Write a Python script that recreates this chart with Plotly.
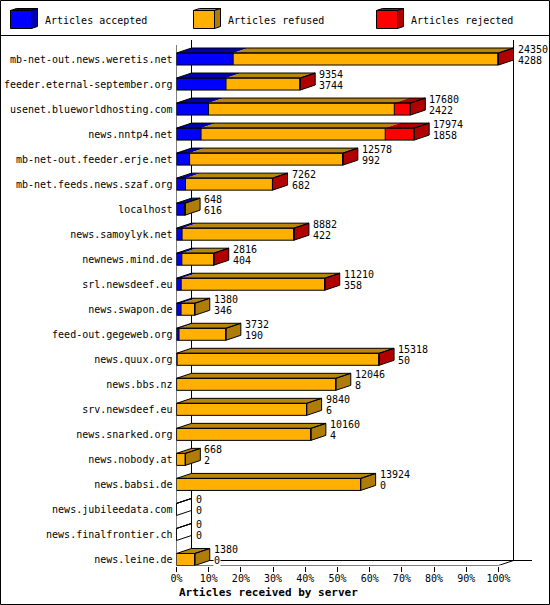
import plotly.graph_objects as go

W, H = 550, 605

servers = ["mb-net-out.news.weretis.net", "feeder.eternal-september.org", "usenet.blueworldhosting.com",
           "news.nntp4.net", "mb-net-out.feeder.erje.net", "mb-net.feeds.news.szaf.org", "localhost",
           "news.samoylyk.net", "newnews.mind.de", "srl.newsdeef.eu", "news.swapon.de", "feed-out.gegeweb.org",
           "news.quux.org", "news.bbs.nz", "srv.newsdeef.eu", "news.snarked.org", "news.nobody.at",
           "news.babsi.de", "news.jubileedata.com", "news.finalfrontier.ch", "news.leine.de"]
# the two numbers printed beside each bar
offered = [24350, 9354, 17680, 17974, 12578, 7262, 648, 8882, 2816, 11210, 1380, 3732,
           15318, 12046, 9840, 10160, 668, 13924, 0, 0, 1380]
accepted = [4288, 3744, 2422, 1858, 992, 682, 616, 422, 404, 358, 346, 190,
            50, 8, 6, 4, 2, 0, 0, 0, 0]
refused = [20002, 5590, 14048, 13926, 11566, 6570, 32, 8452, 2408, 10846, 1034, 3542,
           15264, 12038, 9834, 10156, 666, 13924, 0, 0, 1380]
rejected = [60, 20, 1210, 2190, 20, 10, 0, 8, 4, 6, 0, 0,
            4, 0, 0, 0, 0, 0, 0, 0, 0]
pct_ticks = [0, 10, 20, 30, 40, 50, 60, 70, 80, 90, 100]

series = [("Articles accepted", accepted, "#0000ff", "#0000b0", "#0000b0"),
          ("Articles refused", refused, "#ffb000", "#b8860b", "#b07c08"),
          ("Articles rejected", rejected, "#ff0000", "#b00000", "#b00000")]

FONT = "DejaVu Sans Mono"
SCALE = max(offered) / 100.0

# layout of the drawing in pixels
X0, X100, Y_FIRST, ROW_H = 176.5, 498.5, 59.5, 25.0
PX_PCT = (X100 - X0) / 100.0
TOP, BOTTOM, RIGHT = 40.5, 565.5, 532.0
DX, DY = 15 / PX_PCT, 5 / ROW_H  # 3d depth in axis units
HALF = 6 / ROW_H


def xp(px):
    return px / W


def yp(px):
    return 1 - px / H


def poly(xs, ys):
    return list(xs) + [xs[0], None], list(ys) + [ys[0], None]


fronts = {s[0]: ([], []) for s in series}
tops = {s[0]: ([], []) for s in series}
sides = {s[0]: ([], []) for s in series}
out_x, out_y = [], []

for row in range(len(servers)):
    y_t, y_b = row - HALF, row + HALF
    pos = 0.0
    last = None
    for name, vals, _, _, _ in series:
        v = vals[row] / SCALE
        if v <= 0:
            continue
        x = [pos, pos + v, pos + v, pos]
        a, b = poly(x, [y_t, y_t, y_b, y_b])
        fronts[name][0].extend(a); fronts[name][1].extend(b)
        a, b = poly([pos, pos + v, pos + v + DX, pos + DX], [y_t, y_t, y_t - DY, y_t - DY])
        tops[name][0].extend(a); tops[name][1].extend(b)
        pos += v
        # black divider on the front face
        out_x += [pos, pos, None]; out_y += [y_t, y_b, None]
        last = name
    if last:
        a, b = poly([pos, pos + DX, pos + DX, pos], [y_t, y_t - DY, y_b - DY, y_b])
        sides[last][0].extend(a); sides[last][1].extend(b)
    # outlines
    a, b = poly([0, pos, pos, 0], [y_t, y_t, y_b, y_b])
    out_x += a; out_y += b
    a, b = poly([0, pos, pos + DX, DX], [y_t, y_t, y_t - DY, y_t - DY])
    out_x += a; out_y += b
    a, b = poly([pos, pos + DX, pos + DX, pos], [y_t, y_t - DY, y_b - DY, y_b])
    out_x += a; out_y += b

y_top = (TOP - Y_FIRST) / ROW_H
y_bot = (BOTTOM - Y_FIRST) / ROW_H
x_max = (RIGHT - X0) / PX_PCT

fig = go.Figure()

# walls and floor
wall_x = [0, 0, None, DX, DX, None, 100 + DX, 100 + DX, None, DX, x_max, None, 0, 100, None,
          -DX, DX, None, 100, 100 + DX]
wall_y = [y_top + DY, y_bot, None, y_top, y_bot - DY, None, y_top, y_bot - DY, None,
          y_bot - DY, y_bot - DY, None, y_bot, y_bot, None, y_bot + DY, y_bot - DY, None, y_bot, y_bot - DY]
fig.add_trace(go.Scatter(x=wall_x, y=wall_y, mode="lines", line=dict(color="black", width=1),
                         cliponaxis=False, hoverinfo="skip", showlegend=False))

for name, _, c_front, c_top, c_side in series:
    for part, colour in ((fronts, c_front), (tops, c_top), (sides, c_side)):
        if part[name][0]:
            fig.add_trace(go.Scatter(x=part[name][0], y=part[name][1], mode="none", fill="toself",
                                     fillcolor=colour, cliponaxis=False, hoverinfo="skip", showlegend=False))

fig.add_trace(go.Scatter(x=out_x, y=out_y, mode="lines", line=dict(color="black", width=1),
                         cliponaxis=False, hoverinfo="skip", showlegend=False))

annotations = []
for row in range(len(servers)):
    for value, shift in ((offered[row], 9.5), (accepted[row], -1.5)):
        annotations.append(dict(x=offered[row] / SCALE + DX, y=row, xref="x", yref="y", text=str(value),
                                xanchor="left", yanchor="middle", xshift=3, yshift=shift, showarrow=False,
                                bgcolor="white", borderpad=0, font=dict(family=FONT, size=10, color="black")))

# frame and legend
shapes = [dict(type="rect", xref="paper", yref="paper", x0=xp(0.5), x1=xp(549.5), y0=yp(0.5), y1=yp(604.5),
               line=dict(color="black", width=1), layer="below"),
          dict(type="line", xref="paper", yref="paper", x0=xp(0.5), x1=xp(549.5), y0=yp(35.5), y1=yp(35.5),
               line=dict(color="black", width=1), layer="below")]


def path(points):
    return "M " + " L ".join(f"{xp(a):.5f},{yp(b):.5f}" for a, b in points) + " Z"


for (name, _, c_front, c_top, c_side), lx in zip(series, (10.5, 193.5, 376.5)):
    r = lx + 21
    for pts, colour in (([(lx, 10.5), (r, 10.5), (r, 28.5), (lx, 28.5)], c_front),
                        ([(lx, 10.5), (lx + 6, 8.5), (r + 6, 8.5), (r, 10.5)], c_top),
                        ([(r, 10.5), (r + 6, 8.5), (r + 6, 26.5), (r, 28.5)], c_side)):
        shapes.append(dict(type="path", xref="paper", yref="paper", path=path(pts), fillcolor=colour,
                           line=dict(color="black", width=1)))
    annotations.append(dict(x=xp(r + 11), y=yp(20), xref="paper", yref="paper", text=name, xanchor="left",
                            yanchor="middle", showarrow=False, font=dict(family=FONT, size=10, color="black")))

annotations.append(dict(x=xp(268), y=yp(592), xref="paper", yref="paper", text="<b>Articles received by server</b>",
                        xanchor="center", yanchor="middle", showarrow=False,
                        font=dict(family=FONT, size=11, color="black")))

fig.update_layout(
    width=W, height=H, autosize=False, margin=dict(l=0, r=0, t=0, b=0, pad=0, autoexpand=False),
    paper_bgcolor="white", plot_bgcolor="white", showlegend=False,
    shapes=shapes, annotations=annotations,
    xaxis=dict(domain=[xp(X0), xp(RIGHT)], range=[0, x_max], tickmode="array", tickvals=pct_ticks,
               ticktext=[f"{t}%" for t in pct_ticks], ticks="outside", ticklen=5, tickwidth=1, tickcolor="black",
               showgrid=False, zeroline=False, showline=False, tickangle=0, ticklabelstandoff=-2,
               tickfont=dict(family=FONT, size=10, color="black")),
    yaxis=dict(domain=[yp(BOTTOM), yp(TOP - 0.5)], range=[y_bot, y_top], tickmode="array",
               tickvals=list(range(len(servers))), ticktext=servers, ticks="", showgrid=False, zeroline=False,
               showline=False, ticklabelstandoff=3, tickfont=dict(family=FONT, size=10, color="black")),
)

# the page's default body margin would push the picture off the window
fig.write_html("out.html", config=dict(displayModeBar=False),
               post_script="document.body.style.margin='0';document.body.style.overflow='hidden';")
